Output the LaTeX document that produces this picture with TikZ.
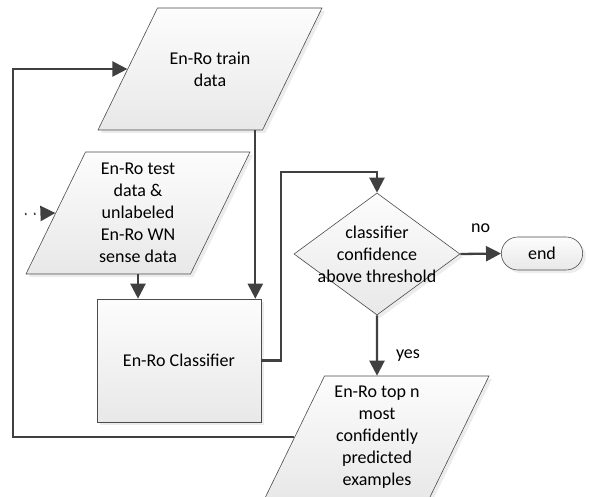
\documentclass[tikz,border=0pt]{standalone}
\usepackage{fontspec}
\setmainfont{Carlito}
\usetikzlibrary{arrows.meta, positioning, shapes.geometric, shapes.misc, shadows, calc}
\newcommand{\datatext}[1]{\parbox[c][122pt][c]{100pt}{\centering #1}}

\begin{document}
\begin{tikzpicture}[x=1pt, y=-1pt,
    font=\fontsize{18}{22}\selectfont,
    box/.style={draw=black!70, line width=0.6pt, top color=black!1, bottom color=black!9,
        drop shadow={shadow xshift=3pt, shadow yshift=-3pt, fill=black!15}},
    datashape/.style={box, trapezium, trapezium left angle=64, trapezium right angle=116,
        trapezium stretches body, minimum width=224pt, inner sep=0pt},
    process/.style={box, rectangle, minimum width=164pt, minimum height=123pt, align=center},
    decision/.style={box, diamond, minimum width=166pt, minimum height=122pt, inner sep=0pt},
    terminal/.style={box, rounded rectangle, minimum width=88pt, minimum height=33pt},
    flow/.style={draw=black!75, line width=2.3pt, -{Triangle[length=15pt, width=15pt]}}]
    \useasboundingbox (0,0) rectangle (589,497);

    \node[datashape] (train) at (210,69) {\datatext{En-Ro train\\data}};
    \node[datashape] (test) at (138,213) {\datatext{En-Ro test\\data \&\\unlabeled\\En-Ro WN\\sense data}};
    \node[process] (clf) at (179,360.5) {En-Ro Classifier};
    \node[decision] (dec) at (377,254) {};
    \node[align=center] (dectext) at (dec.center) {classifier\\confidence\\above threshold};
    \node[terminal] (end) at (542,253.5) {end};
    \node[datashape] (topn) at (377,437) {\datatext{En-Ro top n\\most\\confidently\\predicted\\examples}};

    % points on the slanted sides
    \coordinate (trainin) at ($(train.bottom left corner)!0.5!(train.top left corner)$);
    \coordinate (testin) at ($(test.bottom left corner)!0.5!(test.top left corner)$);
    \coordinate (topnout) at ($(topn.bottom left corner)!0.5!(topn.top left corner)$);
    \coordinate (clfin) at ([xshift=-6pt]clf.north east);
    \coordinate (loop) at (13,437);
    \coordinate (feed) at (25,214);

    \draw[flow] (train.south -| clfin) -- (clfin);
    \draw[flow] (test.south -| test.center) -- (test.center |- clf.north);
    \draw[flow, dash pattern=on 1.5pt off 7.5pt] (feed) -- (testin);
    \draw[flow] (clf.east) -- ++(20,0) |- ($(dec.north)+(0,-21)$) -- (dec.north);
    \draw[flow] (dec.east) -- (end.west) node[midway, yshift=26pt] {no};
    \draw[flow] (dec.south) -- (topn.north) node[midway, xshift=31pt, yshift=-10pt] {yes};
    \draw[flow] (topnout) -- (loop) |- (trainin);
\end{tikzpicture}
\end{document}
